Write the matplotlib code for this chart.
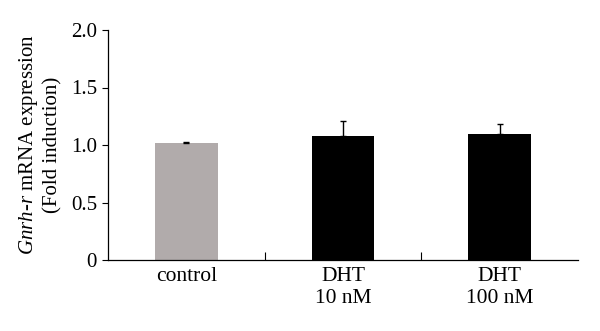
import matplotlib
matplotlib.use("Agg")
import matplotlib.pyplot as plt

categories = ["control", "DHT\n10 nM", "DHT\n100 nM"]
values = [1.015, 1.08, 1.10]
errors = [0.015, 0.13, 0.08]
colors = ["#b1abab", "#000000", "#000000"]

plt.rcParams['font.family'] = ['Liberation Serif', 'DejaVu Serif']
plt.rcParams['mathtext.fontset'] = 'custom'
plt.rcParams['mathtext.rm'] = 'Liberation Serif'
plt.rcParams['mathtext.it'] = 'Liberation Serif:italic'

fig = plt.figure(figsize=(6, 3.31), dpi=100)
ax = fig.add_axes([108/600, 1-260/331, 470/600, 230/331])

x = list(range(len(categories)))
ax.bar(x, values, width=0.4, color=colors, zorder=2)
ax.errorbar(x, values, yerr=[[0]*len(errors), errors], fmt='none', ecolor='black',
            elinewidth=1.0, capsize=2.5, capthick=1.0, zorder=3)

ax.set_xlim(-0.5, 2.5)
ax.set_ylim(0, 2.0)
ax.set_yticks([0, 0.5, 1.0, 1.5, 2.0])
ax.set_yticklabels(["0", "0.5", "1.0", "1.5", "2.0"])
ax.set_xticks(x)
ax.set_xticklabels(categories, fontsize=15.5, linespacing=1.25)
ax.set_xticks([0.5, 1.5], minor=True)
ax.tick_params(axis='x', which='major', length=0, pad=5)
ax.tick_params(axis='x', which='minor', direction='in', length=6, width=0.8)
ax.tick_params(axis='y', labelsize=15, length=4, width=0.8, direction='out', pad=4)

for s in ['top', 'right']:
    ax.spines[s].set_visible(False)
for s in ['left', 'bottom']:
    ax.spines[s].set_linewidth(0.9)

ax.set_ylabel("$Gnrh$-$r$ mRNA expression\n(Fold induction)", fontsize=15, labelpad=6, linespacing=1.2)

fig.savefig("out.png", dpi=100)
